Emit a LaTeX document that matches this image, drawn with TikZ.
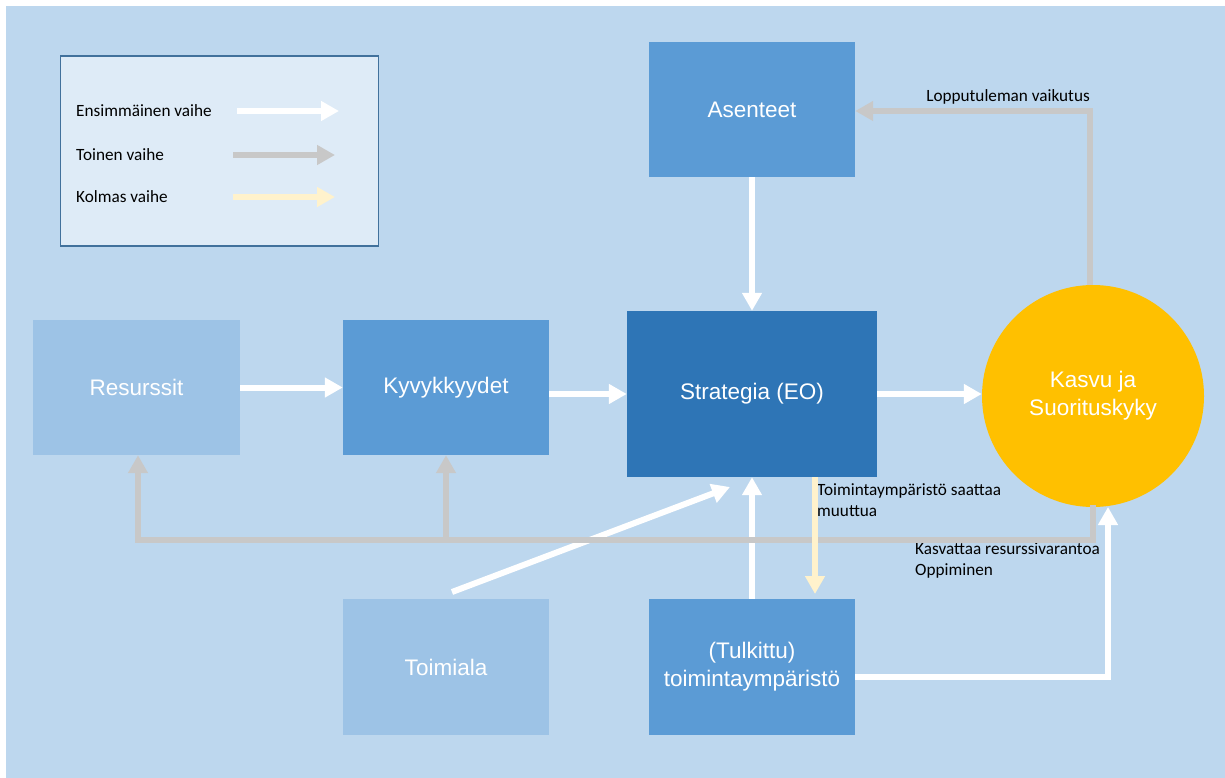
\documentclass[tikz,border=0pt]{standalone}
\usepackage{fontspec}
\setmainfont{Liberation Sans}
\newfontfamily\lblfont{Carlito}
\usetikzlibrary{arrows.meta,calc}
\definecolor{bgblue}{HTML}{BDD7EE}
\definecolor{legfill}{HTML}{DEEBF7}
\definecolor{legborder}{HTML}{41719C}
\definecolor{lightbox}{HTML}{9DC3E6}
\definecolor{midbox}{HTML}{5B9BD5}
\definecolor{darkbox}{HTML}{2E75B6}
\definecolor{gold}{HTML}{FFC000}
\definecolor{grayarrow}{HTML}{C8C8C8}
\definecolor{yelarrow}{HTML}{FFF2CC}
\tikzset{
  boxbase/.style={rectangle, draw=none, text=white, align=center,
    font=\fontsize{22.5}{28}\selectfont, inner sep=0pt},
  lightnode/.style={boxbase, fill=lightbox},
  midnode/.style={boxbase, fill=midbox},
  darknode/.style={boxbase, fill=darkbox},
  firstarrow/.style={draw=white, line width=6pt, -{Triangle[length=18pt,width=19pt]}},
  secondarrow/.style={draw=grayarrow, line width=6pt, line join=miter, -{Triangle[length=18pt,width=19pt]}},
  thirdarrow/.style={draw=yelarrow, line width=6pt, -{Triangle[length=18pt,width=19pt]}},
  lbl/.style={font=\lblfont\fontsize{17.2}{21.5}\selectfont, text=black, inner sep=0pt, align=left},
}
\begin{document}
\begin{tikzpicture}[x=1pt,y=-1pt]
\useasboundingbox (0,0) rectangle (1225,778);
\fill[white] (0,0) rectangle (1225,778);
\fill[bgblue] (6,6) rectangle (1225,778);

% legend
\node[rectangle, draw=legborder, line width=1.5pt, fill=legfill, minimum width=318pt, minimum height=190pt, inner sep=0pt] (legend) at (219.5,151) {};
\node[lbl, anchor=west] (l1) at (76,111) {Ensimmäinen vaihe};
\node[lbl, anchor=west] (l2) at (76,155) {Toinen vaihe};
\node[lbl, anchor=west] (l3) at (76,197) {Kolmas vaihe};
\coordinate (a1s) at (237,111); \coordinate (a1e) at (339,111);
\coordinate (a2s) at (233,155); \coordinate (a2e) at (335,155);
\coordinate (a3s) at (233,197); \coordinate (a3e) at (335,197);
\draw[firstarrow] (a1s) -- (a1e);
\draw[secondarrow] (a2s) -- (a2e);
\draw[thirdarrow] (a3s) -- (a3e);

% nodes
\node[lightnode, minimum width=207pt, minimum height=135pt] (res) at (136.5,387.5) {Resurssit};
\node[midnode, minimum width=206pt, minimum height=135pt] (kyv) at (446,387.5) {Kyvykkyydet};
\node[midnode, minimum width=206pt, minimum height=135pt] (ase) at (752,109.5) {Asenteet};
\node[darknode, minimum width=250pt, minimum height=166pt] (str) at (752,394) {Strategia (EO)};
\node[circle, fill=gold, draw=none, minimum size=222pt, inner sep=0pt, text=white, align=center,
  font=\fontsize{22.5}{28}\selectfont] (kas) at (1093,396) {Kasvu ja\\Suorituskyky};
\node[lightnode, minimum width=206pt, minimum height=136pt] (toi) at (446,667) {Toimiala};
\node[midnode, minimum width=206pt, minimum height=136pt] (tul) at (752,667) {(Tulkittu)\\toimintaympäristö};

% labels
\node[lbl, anchor=east] (lopp) at (1090,97) {Lopputuleman vaikutus};
\node[lbl, anchor=north west] (muut) at (817,483) {Toimintaympäristö saattaa\\muuttua};
\node[lbl, anchor=north west] (kasv) at (915,542) {Kasvattaa resurssivarantoa\\Oppiminen};

% helper coordinates
\coordinate (toiS) at (452,592);
\coordinate (toiE) at (730,487);
\coordinate (yelS) at (815,477);
\coordinate (yelE) at (815,594);
\coordinate (tulR) at (855,677);
\coordinate (tulC) at (1108,677);
\coordinate (kasB) at (1108,507);
\coordinate (grB) at (1093,505);
\coordinate (grC1) at (1093,540);
\coordinate (grC2) at (138,540);
\coordinate (grBr) at (446,540);
\coordinate (grT) at (1090,285);
\coordinate (grT2) at (1090,111);

% first phase arrows
\draw[firstarrow] (res.east) -- (kyv.west);
\draw[firstarrow] (kyv.east |- str.west) -- (str.west);
\draw[firstarrow] (str.east) -- (kas.west |- str.east);
\draw[firstarrow] (ase.south) -- (str.north);
\draw[firstarrow] (tul.north) -- (str.south);
\draw[firstarrow] (toiS) -- (toiE);
\draw[firstarrow] (tulR) -- (tulC) -- (kasB);

% second phase arrows
\draw[secondarrow] (grB) -- (grC1) -- (grC2) -- (res.south -| grC2);
\draw[secondarrow] (grBr) -- (kyv.south);
\draw[secondarrow] (grT) -- (grT2) -- (ase.east |- grT2);

% third phase arrow
\draw[thirdarrow] (yelS) -- (yelE);
\end{tikzpicture}
\end{document}
